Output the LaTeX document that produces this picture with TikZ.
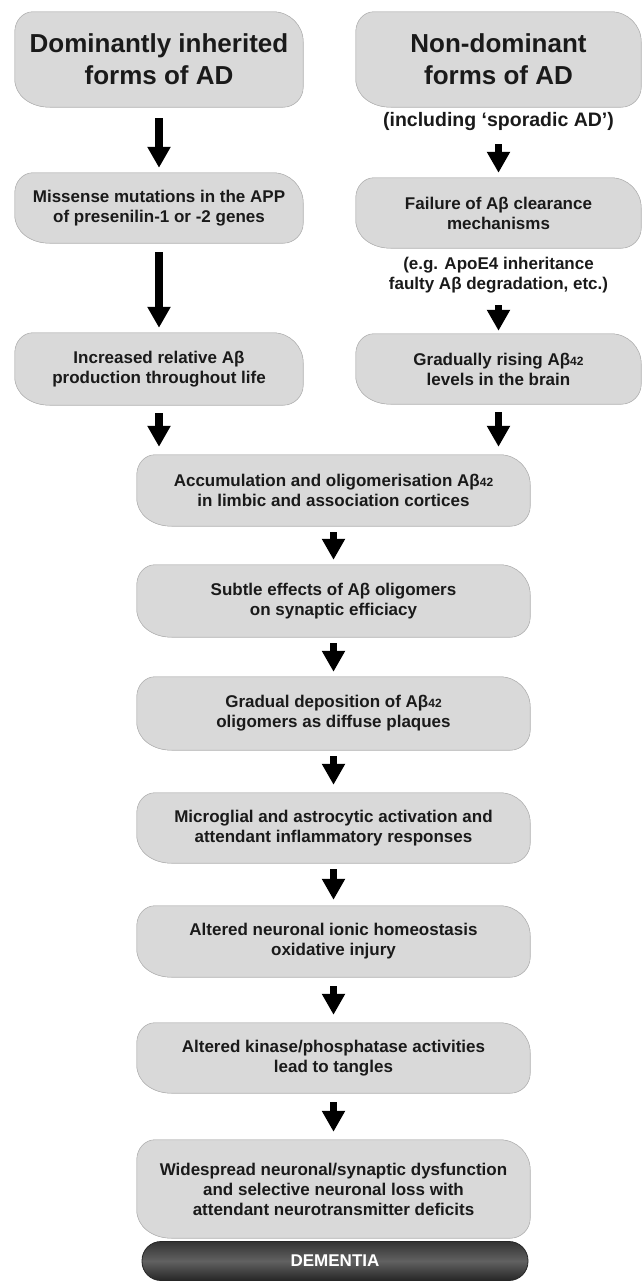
\documentclass[tikz,border=0pt]{standalone}
\usepackage{fontspec}
\setmainfont{Liberation Sans}
\usetikzlibrary{arrows.meta,calc}
\pgfdeclarelayer{background}
\pgfsetlayers{background,main}
\definecolor{boxfill}{HTML}{D9D9D9}
\definecolor{boxshade}{HTML}{505050}
\definecolor{boxedge}{HTML}{B8B8B8}
\definecolor{txt}{HTML}{1A1A1A}
\newcommand\blobcurve{(\x1+18pt,\y1) -- (\x2-30pt,\y1) .. controls (\x2-13.5pt,\y1) and (\x2,\y1-13.5pt) .. (\x2,\y1-30pt) -- (\x2,\y2+20pt) .. controls (\x2,\y2+9pt) and (\x2-9pt,\y2) .. (\x2-20pt,\y2) -- (\x1+35pt,\y2) .. controls (\x1+15pt,\y2) and (\x1,\y2+12pt) .. (\x1,\y2+28pt) -- (\x1,\y1-20pt) .. controls (\x1,\y1-9pt) and (\x1+8pt,\y1) .. (\x1+18pt,\y1) -- cycle}
\newcommand\blob[1]{%
  \begin{pgfonlayer}{background}
    \fill[boxshade,shift={(1.6,1.6)}] let \p1=(#1.north west),\p2=(#1.south east) in \blobcurve;
    \filldraw[fill=boxfill,draw=boxedge,line width=0.6pt] let \p1=(#1.north west),\p2=(#1.south east) in \blobcurve;
  \end{pgfonlayer}}
\newcommand\sm[1]{{\fontsize{12}{12}\selectfont #1}}
\tikzset{
  box/.style={inner sep=0pt, align=center, text=txt, font=\bfseries\fontsize{17}{20}\selectfont},
  title/.style={box, font=\bfseries\fontsize{26}{32}\selectfont},
  note/.style={inner sep=0pt, align=center, text=txt},
  arr/.style={line width=7.5pt, draw=black, -{Triangle[width=22pt,length=21pt]}},
  dem/.style={inner sep=0pt, text=white, font=\bfseries\fontsize{17}{20}\selectfont,
    minimum width=386pt, minimum height=39pt, rounded corners=19pt,
    draw=black!85, line width=0.8pt, top color=black!80, bottom color=black!85, middle color=black!62}
}
\begin{document}
\begin{tikzpicture}[x=1pt,y=-1pt]
\useasboundingbox (0,0) rectangle (643,1282);
% left column
\node[title, minimum width=288pt, minimum height=95pt] (A) at (159,59.5) {Dominantly inherited\\forms of AD};
\node[box, minimum width=288pt, minimum height=70pt] (C) at (159,208) {Missense mutations in the APP\\of presenilin-1 or -2 genes};
\node[box, minimum width=288pt, minimum height=72pt] (E) at (159,369) {Increased relative Aβ\\production throughout life};
% right column
\node[title, minimum width=285pt, minimum height=95pt] (B) at (498.5,59.5) {Non-dominant\\forms of AD};
\node[note, font=\bfseries\fontsize{19.5}{22}\selectfont] (inc) at (498.5,121) {(including ‘sporadic AD’)};
\node[box, minimum width=285pt, minimum height=70pt] (D) at (498.5,213) {Failure of Aβ clearance\\mechanisms};
\node[note, font=\bfseries\fontsize{17}{20}\selectfont] (eg) at (498.5,275) {(e.g. ApoE4 inheritance\\faulty Aβ degradation, etc.)};
\node[box, minimum width=285pt, minimum height=70pt] (F) at (498.5,369) {Gradually rising Aβ\sm{42}\\levels in the brain};
% central column
\node[box, minimum width=393pt, minimum height=71pt] (G) at (333.5,490.5) {Accumulation and oligomerisation Aβ\sm{42}\\in limbic and association cortices};
\node[box, minimum width=393pt, minimum height=72pt] (H) at (333.5,601) {Subtle effects of Aβ oligomers\\on synaptic efficiacy};
\node[box, minimum width=393pt, minimum height=73pt] (I) at (333.5,713.5) {Gradual deposition of Aβ\sm{42}\\oligomers as diffuse plaques};
\node[box, minimum width=393pt, minimum height=70pt] (J) at (333.5,828) {Microglial and astrocytic activation and\\attendant inflammatory responses};
\node[box, minimum width=393pt, minimum height=71pt] (K) at (333.5,941.5) {Altered neuronal ionic homeostasis\\oxidative injury};
\node[box, minimum width=393pt, minimum height=70pt] (L) at (333.5,1058) {Altered kinase/phosphatase activities\\lead to tangles};
\node[box, minimum width=393pt, minimum height=98pt] (M) at (333.5,1189) {Widespread neuronal/synaptic dysfunction\\and selective neuronal loss with\\attendant neurotransmitter deficits};
\node[dem] (dem) at (335,1261) {DEMENTIA};
% box shapes
\blob{A}\blob{B}\blob{C}\blob{D}\blob{E}\blob{F}
\blob{G}\blob{H}\blob{I}\blob{J}\blob{K}\blob{L}\blob{M}
% arrows
\draw[arr, shorten <=11pt, shorten >=5pt] (A.south) -- (C.north);
\draw[arr, shorten <=9pt, shorten >=5pt] (C.south) -- (E.north);
\draw[arr, shorten <=14pt, shorten >=5pt] (inc.south) -- (D.north);
\draw[arr, shorten <=12pt, shorten >=3pt] (eg.south) -- (F.north);
\draw[arr, shorten <=8pt, shorten >=8pt] (E.south) -- (E.south |- G.north);
\draw[arr, shorten <=8pt, shorten >=8pt] (F.south) -- (F.south |- G.north);
\draw[arr, shorten <=6pt, shorten >=5pt] (G.south) -- (H.north);
\draw[arr, shorten <=6pt, shorten >=5pt] (H.south) -- (I.north);
\draw[arr, shorten <=6pt, shorten >=8pt] (I.south) -- (J.north);
\draw[arr, shorten <=6pt, shorten >=6pt] (J.south) -- (K.north);
\draw[arr, shorten <=9pt, shorten >=8pt] (K.south) -- (L.north);
\draw[arr, shorten <=9pt, shorten >=8pt] (L.south) -- (M.north);
\end{tikzpicture}
\end{document}
